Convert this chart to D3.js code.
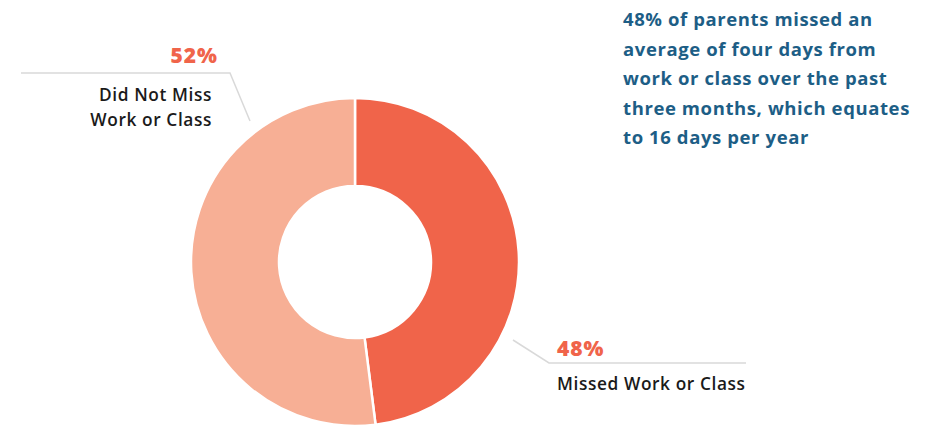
<!DOCTYPE html>
<html><head><meta charset="utf-8">
<script src="https://cdn.jsdelivr.net/npm/d3@7"></script>
<style>body{margin:0;background:#fff;} svg{display:block;}</style>
</head><body>
<svg id="c" width="929" height="425"></svg>
<script>
const categories = ["Missed Work or Class", "Did Not Miss Work or Class"];
const values = [48, 52];
const colors = ["#F0644A", "#F7AF95"];
const note = ["48% of parents missed an", "average of four days from", "work or class over the past", "three months, which equates", "to 16 days per year"];

const svg = d3.select("#c");
const cx = 355, cy = 262, R = 164, r = 76;
const font = "'Open Sans', sans-serif";

const pie = d3.pie().sort(null).value(d => d)(values);
const arc = d3.arc().innerRadius(r).outerRadius(R);
svg.append("g").attr("transform", `translate(${cx},${cy})`)
  .selectAll("path").data(pie).join("path")
  .attr("d", arc).attr("fill", (d, i) => colors[i])
  .attr("stroke", "#fff").attr("stroke-width", 2.5);

// leader lines
svg.append("polyline").attr("points", "21,73 230,73 250,121")
  .attr("fill", "none").attr("stroke", "#d9d9d9").attr("stroke-width", 1.5);
svg.append("polyline").attr("points", "513,340 549,363 746,363")
  .attr("fill", "none").attr("stroke", "#d9d9d9").attr("stroke-width", 1.5);

// percent labels
svg.append("text").attr("x", 218).attr("y", 63).attr("text-anchor", "end")
  .attr("font-family", font).attr("font-weight", 800).attr("font-size", 21)
  .attr("letter-spacing", 1).attr("fill", colors[0]).text(values[1] + "%");
svg.append("text").attr("x", 557).attr("y", 356)
  .attr("font-family", font).attr("font-weight", 800).attr("font-size", 21)
  .attr("letter-spacing", 1).attr("fill", colors[0]).text(values[0] + "%");

// category labels
const lab = svg.append("g").attr("font-family", font).attr("font-weight", 600)
  .attr("font-size", 17.3).attr("letter-spacing", 0.6).attr("fill", "#1a1a1a");
lab.append("text").attr("x", 212).attr("y", 101).attr("text-anchor", "end").text("Did Not Miss");
lab.append("text").attr("x", 212).attr("y", 126).attr("text-anchor", "end").text("Work or Class");
lab.append("text").attr("x", 557).attr("y", 390).text(categories[0]);

// note
svg.append("g").attr("font-family", font).attr("font-weight", 700)
  .attr("font-size", 18.5).attr("letter-spacing", 0.6).attr("fill", "#1D5E86")
  .selectAll("text").data(note).join("text")
  .attr("x", 623).attr("y", (d, i) => 26 + i * 29.6).text(d => d);
</script>
</body></html>
